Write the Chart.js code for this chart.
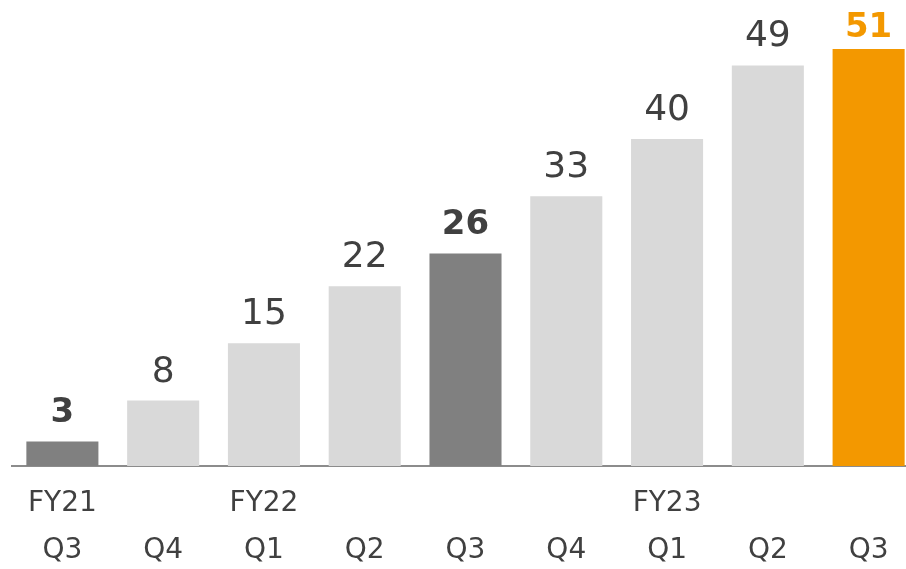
<!DOCTYPE html>
<html>
<head>
<meta charset="utf-8">
<script src="https://cdn.jsdelivr.net/npm/chart.js@4"></script>
<style>
  html, body {margin: 0; padding: 0; background: #ffffff; overflow: hidden;}
  #wrap {width: 920px; height: 569px; position: relative;}
</style>
</head>
<body>
<div id="wrap"><canvas id="growthChart"></canvas></div>
<script>
const fiscalYears = ['FY21', '', 'FY22', '', '', '', 'FY23', '', ''];
const quarters = ['Q3', 'Q4', 'Q1', 'Q2', 'Q3', 'Q4', 'Q1', 'Q2', 'Q3'];
const values = [3, 8, 15, 22, 26, 33, 40, 49, 51];
const highlight = [true, false, false, false, true, false, false, false, true];

const grey = '#808080';
const light = '#d9d9d9';
const orange = '#f39800';
const text = '#404040';
const fontFamily = '"DejaVu Sans", Verdana, sans-serif';

const barColors = values.map((_, i) => i === values.length - 1 ? orange : (highlight[i] ? grey : light));

const valueLabels = {
    id: 'valueLabels',
    afterDatasetsDraw(chart) {
        const ctx = chart.ctx;
        const meta = chart.getDatasetMeta(0);
        ctx.save();
        ctx.textAlign = 'center';
        ctx.textBaseline = 'alphabetic';
        meta.data.forEach((bar, i) => {
            const last = i === values.length - 1;
            ctx.font = (highlight[i] ? 'bold 34px ' : '36px ') + fontFamily;
            ctx.fillStyle = last ? orange : text;
            // top bar label sits closer to its bar, as in the original
            ctx.fillText(String(values[i]), bar.x, bar.y - (last ? 12 : 19));
        });
        ctx.restore();
    }
};

new Chart(document.getElementById('growthChart'), {
    type: 'bar',
    data: {
        labels: quarters.map((q, i) => [fiscalYears[i], q]),
        datasets: [{
            data: values,
            backgroundColor: barColors,
            barPercentage: 0.715,
            categoryPercentage: 1
        }]
    },
    options: {
        responsive: true,
        maintainAspectRatio: false,
        animation: false,
        layout: {padding: {left: 12, right: 1, top: 0, bottom: 0}},
        plugins: {legend: {display: false}, tooltip: {enabled: false}},
        scales: {
            x: {
                grid: {display: false, drawTicks: false},
                border: {display: true, color: '#8c8c8c', width: 2},
                ticks: {
                    color: text,
                    padding: 14,
                    font: {family: fontFamily, size: 28, lineHeight: 1.68},
                    maxRotation: 0,
                    autoSkip: false
                },
                afterFit: scale => { scale.height = 103; }
            },
            y: {
                display: false,
                min: 0,
                max: 57
            }
        }
    },
    plugins: [valueLabels]
});
</script>
</body>
</html>
